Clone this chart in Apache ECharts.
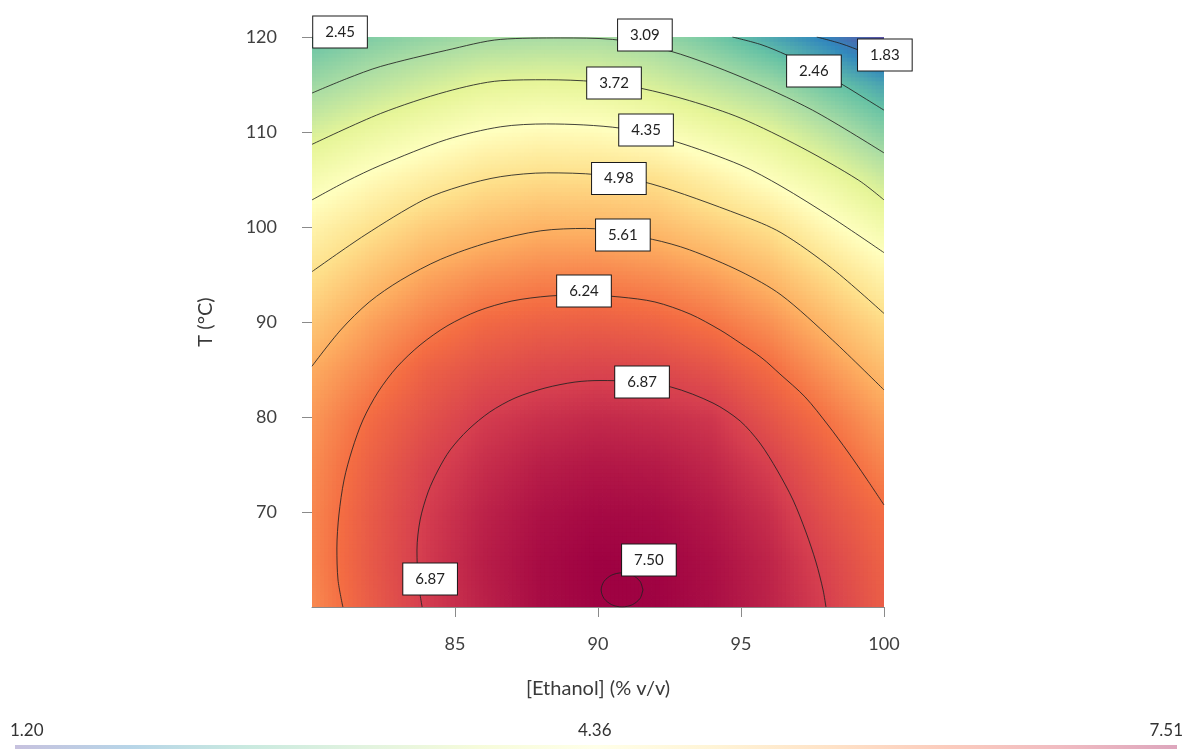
<!DOCTYPE html>
<html>
<head>
<meta charset="utf-8">
<script src="https://cdn.jsdelivr.net/npm/echarts@6/dist/echarts.min.js"></script>
<style>
html,body{margin:0;padding:0;background:#fff;}
#chart{width:1200px;height:749px;}
</style>
</head>
<body>
<div id="chart"></div>
<script>
// ---- Data ----
const xGrid = [80, 82, 84, 86, 88, 90, 92, 94, 96, 98, 100];
const yGrid = [60, 65, 70, 75, 80, 85, 90, 95, 100, 105, 110, 115, 120];
// response values, one row per temperature (yGrid), one column per ethanol level (xGrid)
const zRows = [
  [5.97, 6.46, 6.90, 7.18, 7.40, 7.50, 7.50, 7.38, 7.17, 6.87, 6.45],
  [6.02, 6.50, 6.92, 7.21, 7.40, 7.50, 7.48, 7.36, 7.14, 6.78, 6.38],
  [6.00, 6.48, 6.89, 7.16, 7.34, 7.42, 7.40, 7.27, 7.03, 6.62, 6.26],
  [5.94, 6.40, 6.79, 7.04, 7.21, 7.28, 7.25, 7.12, 6.85, 6.43, 6.02],
  [5.83, 6.26, 6.60, 6.89, 7.01, 7.08, 7.04, 6.95, 6.57, 6.19, 5.76],
  [5.64, 6.00, 6.40, 6.61, 6.74, 6.79, 6.75, 6.59, 6.28, 5.85, 5.44],
  [5.32, 5.73, 6.05, 6.30, 6.40, 6.43, 6.36, 6.18, 5.90, 5.49, 5.05],
  [4.96, 5.35, 5.69, 5.89, 6.00, 6.02, 5.93, 5.75, 5.47, 5.04, 4.58],
  [4.59, 4.93, 5.24, 5.43, 5.56, 5.54, 5.46, 5.23, 4.98, 4.49, 4.04],
  [4.12, 4.44, 4.71, 4.95, 5.05, 5.04, 4.99, 4.67, 4.31, 3.93, 3.45],
  [3.57, 3.87, 4.13, 4.36, 4.46, 4.43, 4.27, 3.98, 3.72, 3.27, 2.78],
  [2.99, 3.25, 3.50, 3.73, 3.79, 3.75, 3.55, 3.28, 2.99, 2.55, 2.13],
  [2.45, 2.70, 2.88, 3.02, 3.07, 3.07, 2.93, 2.60, 2.18, 1.76, 1.20]
];
const zMin = 1.20;
const zMax = 7.51;

// contour lines, [ethanol, T] points
const c183 = [[97.65,120],[98.5,119.3],[99.3,118.4],[100,117.5]];
const c245 = [[80,119.85],[80.25,120]];
const c246 = [[94.7,120],[95.7,119.2],[96.6,118.1],[97.6,116.6],[98.6,114.9],[99.3,113.6],[100,112.3]];
const c309 = [[80,114.1],[81.2,115.6],[82.4,116.9],[84.7,118.6],[86.6,119.75],[88.7,119.9],[90.5,119.75],[92.6,118.45],[95.0,115.8],[97.5,112.3],[100,107.8]];
const c372 = [[80,108.7],[82.4,111.95],[84.7,114.25],[86.6,115.4],[88.2,115.5],[89.9,115.3],[91.5,114.6],[93.2,113.3],[95.0,111.45],[97.1,108.4],[99.1,104.95],[100,102.85]];
const c435 = [[80,102.85],[81.2,104.8],[82.4,106.5],[84.7,109.2],[86.6,110.55],[88.2,110.85],[90.8,110.4],[92.7,109.0],[95.0,106.5],[96.4,104.3],[98.2,100.95],[100,97.3]];
const c498 = [[80,95.3],[81.85,99.15],[83.9,102.85],[85.2,104.3],[86.6,105.3],[88.2,105.7],[90.0,105.5],[91.85,104.55],[95.0,101.25],[96.4,99.4],[98.2,95.6],[100,90.9]];
const c561 = [[80,85.35],[81.0,89.15],[82.0,92.1],[83.1,94.4],[84.5,96.6],[86.2,98.4],[88.0,99.6],[89.6,99.85],[91.9,98.7],[93.2,97.6],[95.0,95.3],[96.4,92.85],[98.2,88.1],[100,82.85]];
const c624 = [[81.08,60],[80.91,62.84],[80.87,66.21],[80.94,69.68],[81.12,73.37],[81.40,76.53],[81.78,79.68],[82.31,82.63],[82.97,85.26],[83.78,87.58],[84.72,89.58],[85.80,91.16],[86.99,92.21],[88.32,92.74],[89.55,92.84],[90.77,92.63],[91.99,92.11],[93.22,90.84],[94.27,89.16],[94.97,87.79],[95.73,86.21],[96.36,84.53],[97.24,82.11],[98.04,79.16],[98.74,76.32],[99.37,73.58],[100,70.74]];
const c687 = [[83.85,60],[83.71,62.84],[83.67,66.0],[83.78,69.16],[84.06,72.11],[84.41,74.42],[84.83,76.53],[85.45,78.63],[86.22,80.53],[87.10,82.0],[88.15,83.05],[89.20,83.68],[90.07,83.84],[91.12,83.74],[92.55,83.16],[94.02,81.47],[94.97,79.58],[95.66,77.26],[96.26,74.42],[96.82,71.26],[97.27,67.89],[97.62,64.74],[97.87,61.79],[97.97,60]];
const c750 = [[91.57,61.8],[91.47,62.7],[91.2,63.36],[90.84,63.6],[90.48,63.36],[90.21,62.7],[90.11,61.8],[90.21,60.9],[90.48,60.24],[90.84,60.0],[91.2,60.24],[91.47,60.9],[91.57,61.8]];

// contour labels
const labelText = ['2.45', '3.09', '2.46', '1.83', '3.72', '4.35', '4.98', '5.61', '6.24', '6.87', '6.87', '7.50'];
const labelX = [80.98, 91.64, 97.55, 100.03, 90.56, 91.68, 90.73, 90.87, 89.51, 91.54, 84.13, 91.78];
const labelY = [120.53, 120.21, 116.42, 118.1, 115.16, 110.21, 105.1, 99.16, 93.26, 83.68, 62.95, 64.95];

// axis ticks
const xTicks = [85, 90, 95, 100];
const yTicks = [70, 80, 90, 100, 110, 120];
const colorbarLabels = ['1.20', '4.36', '7.51'];

// ---- styling ----
const FONT = 'Lato, "Open Sans", sans-serif';
const spectral = ['#5E4FA2', '#3288BD', '#66C2A5', '#ABDDA4', '#E6F598', '#FFFFBF', '#FEE08B', '#FDAE61', '#F46D43', '#D53E4F', '#9E0142'];
const spectralRGB = spectral.map(h => [parseInt(h.slice(1,3),16), parseInt(h.slice(3,5),16), parseInt(h.slice(5,7),16)]);
function colorOf(v) {
  let t = (v - zMin) / (zMax - zMin);
  t = Math.max(0, Math.min(1, t));
  const p = t * (spectralRGB.length - 1);
  const i = Math.min(Math.floor(p), spectralRGB.length - 2);
  const f = p - i;
  const a = spectralRGB[i], b = spectralRGB[i + 1];
  return 'rgb(' + Math.round(a[0] + (b[0]-a[0])*f) + ',' + Math.round(a[1] + (b[1]-a[1])*f) + ',' + Math.round(a[2] + (b[2]-a[2])*f) + ')';
}

// table of cells for the custom series, built from the grid
const cells = [];
for (let j = 0; j < yGrid.length - 1; j++) {
  for (let i = 0; i < xGrid.length - 1; i++) {
    cells.push([xGrid[i], yGrid[j], xGrid[i+1], yGrid[j+1],
      zRows[j][i], zRows[j][i+1], zRows[j+1][i], zRows[j+1][i+1]]);
  }
}

function renderCell(params, api) {
  const x0 = api.value(0), y0 = api.value(1), x1 = api.value(2), y1 = api.value(3);
  const z00 = api.value(4), z10 = api.value(5), z01 = api.value(6), z11 = api.value(7);
  const p0 = api.coord([x0, y0]);
  const p1 = api.coord([x1, y1]);
  const N = 14, M = 12;
  const w = (p1[0] - p0[0]) / N;
  const h = (p0[1] - p1[1]) / M;
  const children = [];
  for (let a = 0; a < N; a++) {
    const s = (a + 0.5) / N;
    for (let b = 0; b < M; b++) {
      const t = (b + 0.5) / M;
      const v = z00*(1-s)*(1-t) + z10*s*(1-t) + z01*(1-s)*t + z11*s*t;
      children.push({
        type: 'rect',
        shape: { x: p0[0] + a*w, y: p0[1] - (b+1)*h, width: w + 0.8, height: h + 0.8 },
        style: { fill: colorOf(v) },
        silent: true
      });
    }
  }
  return { type: 'group', children: children };
}

const contourList = [c183, c245, c246, c309, c372, c435, c498, c561, c624, c687, c750];
const lineSeries = contourList.map(c => ({
  type: 'line',
  data: c,
  smooth: 0.3,
  symbol: 'none',
  clip: true,
  z: 3,
  silent: true,
  lineStyle: { color: '#222', width: 1, opacity: 0.85 },
  emphasis: { disabled: true }
}));

const labelData = labelText.map((t, k) => ({ name: t, value: [labelX[k], labelY[k]] }));

const chart = echarts.init(document.getElementById('chart'), null, { renderer: 'canvas' });
chart.setOption({
  animation: false,
  backgroundColor: '#ffffff',
  grid: { left: 312, right: 316, top: 37, bottom: 142, containLabel: false },
  xAxis: {
    type: 'value', min: 80, max: 100, interval: 5,
    name: '[Ethanol] (% v/v)', nameLocation: 'middle', nameGap: 72,
    nameTextStyle: { fontSize: 20, color: '#3a3a3a', fontFamily: FONT },
    axisLine: { show: true, lineStyle: { color: '#8a8a8a', width: 1 } },
    axisTick: { show: true, length: 10, customValues: xTicks, lineStyle: { color: '#8a8a8a' } },
    axisLabel: { customValues: xTicks, fontSize: 18, color: '#404040', margin: 28, fontFamily: FONT },
    splitLine: { show: false }
  },
  yAxis: {
    type: 'value', min: 60, max: 120, interval: 10,
    name: 'T (°C)', nameLocation: 'middle', nameGap: 96,
    nameTextStyle: { fontSize: 20, color: '#3a3a3a', fontFamily: FONT },
    axisLine: { show: true, lineStyle: { color: '#8a8a8a', width: 1 } },
    axisTick: { show: true, length: 10, customValues: yTicks, lineStyle: { color: '#8a8a8a' } },
    axisLabel: { customValues: yTicks, fontSize: 18, color: '#404040', margin: 35, fontFamily: FONT },
    splitLine: { show: false }
  },
  series: [
    {
      type: 'custom',
      renderItem: renderCell,
      data: cells,
      encode: { x: [0, 2], y: [1, 3] },
      clip: true,
      silent: true,
      z: 1
    }
  ].concat(lineSeries).concat([
    {
      type: 'scatter',
      data: labelData,
      symbolSize: 0,
      clip: false,
      silent: true,
      z: 5,
      itemStyle: { opacity: 1 },
      label: {
        show: true, position: 'inside', formatter: '{b}',
        fontSize: 15, color: '#222', fontFamily: FONT, opacity: 1,
        backgroundColor: '#ffffff', borderColor: '#1a1a1a', borderWidth: 1,
        padding: [8, 12]
      },
      emphasis: { disabled: true }
    }
  ]),
  graphic: [
    {
      type: 'rect', left: 15, top: 745, silent: true,
      shape: { width: 1162, height: 4 },
      style: {
        opacity: 0.35,
        fill: new echarts.graphic.LinearGradient(0, 0, 1, 0,
          spectral.map((c, k) => ({ offset: k / (spectral.length - 1), color: c })))
      }
    },
    { type: 'text', left: 10, top: 722, style: { text: colorbarLabels[0], fontSize: 17, fill: '#333', fontFamily: FONT } },
    { type: 'text', left: 578, top: 722, style: { text: colorbarLabels[1], fontSize: 17, fill: '#333', fontFamily: FONT } },
    { type: 'text', right: 17, top: 722, style: { text: colorbarLabels[2], fontSize: 17, fill: '#333', fontFamily: FONT } }
  ]
});
</script>
</body>
</html>
